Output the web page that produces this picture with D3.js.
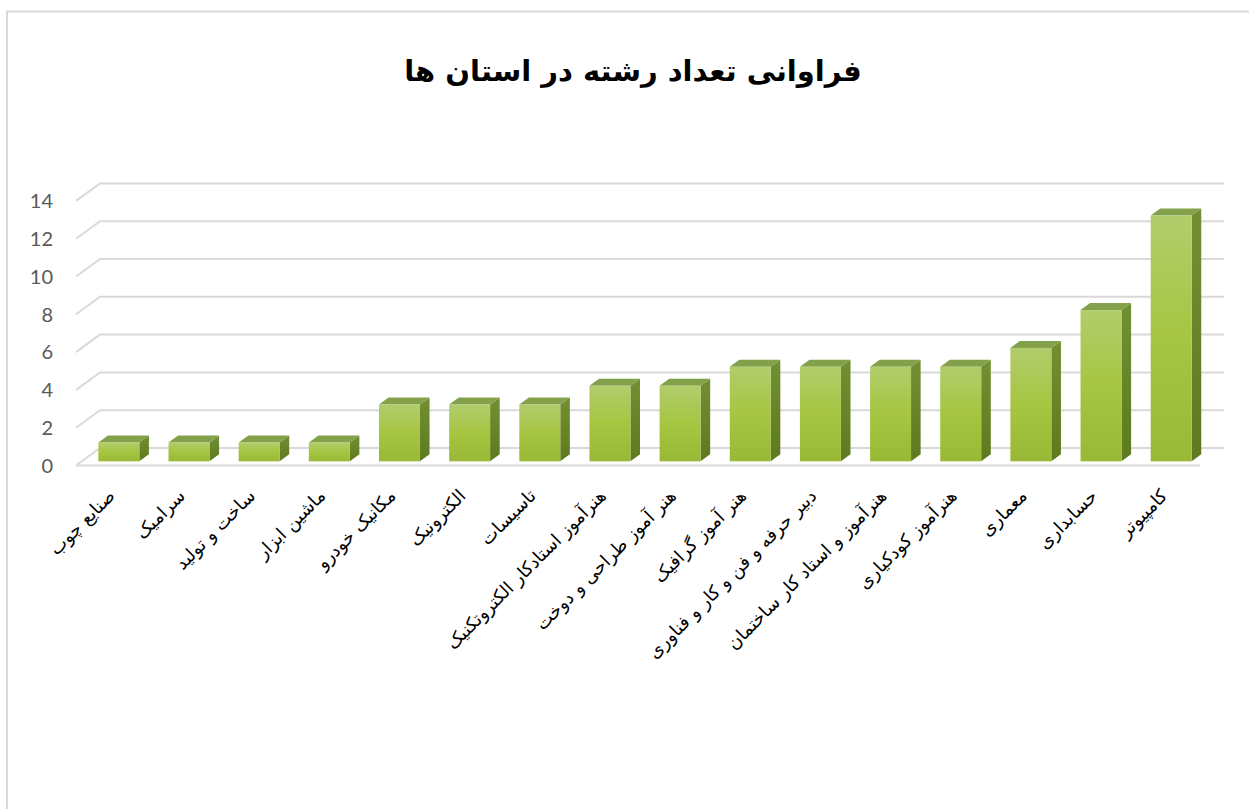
<!DOCTYPE html>
<html>
<head>
<meta charset="utf-8">
<script src="https://cdn.jsdelivr.net/npm/d3@7/dist/d3.min.js"></script>
<style>
  html, body { margin: 0; padding: 0; background: #ffffff; }
  svg { display: block; }
</style>
</head>
<body>
<svg id="chart" width="1249" height="809"></svg>
<script>
// ---- data ----
const chartTitle = "فراوانی تعداد رشته در استان ها";
const categories = [
  "صنایع چوب",
  "سرامیک",
  "ساخت و تولید",
  "ماشین ابزار",
  "مکانیک خودرو",
  "الکترونیک",
  "تاسیسات",
  "هنرآموز استادکار الکتروتکنیک",
  "هنر آموز طراحی و دوخت",
  "هنر آموز گرافیک",
  "دبیر حرفه و فن و کار و فناوری",
  "هنرآموز و استاد کار ساختمان",
  "هنرآموز کودکیاری",
  "معماری",
  "حسابداری",
  "کامپیوتر"
];
const values = [1, 1, 1, 1, 3, 3, 3, 4, 4, 5, 5, 5, 5, 6, 8, 13];
const yTicks = [0, 2, 4, 6, 8, 10, 12, 14];

// ---- layout ----
const svg = d3.select("#chart");
const W = 1249, H = 809;

// chart frame
svg.append("path")
  .attr("d", `M7,${H + 5} L7,11.5 L${W + 5},11.5`)
  .attr("fill", "none")
  .attr("stroke", "#d9d9d9")
  .attr("stroke-width", 2);

// 3D projection: front plane scales + depth vector
const depthX = 24, depthY = -17.5;
const x = d3.scaleBand()
  .domain(categories)
  .range([78, 1200.5])
  .paddingInner(0.416)
  .paddingOuter(0.208);
const y = d3.scaleLinear().domain([0, 14]).range([465.5, 200.9]);
const floorLeft = 76, floorRight = 1200;

// gridlines on back wall + left-side diagonals
const grid = svg.append("g");
yTicks.forEach(v => {
  const yf = y(v);
  grid.append("path")
    .attr("d", `M${floorLeft},${yf} L${floorLeft + depthX},${yf + depthY} L${floorRight + depthX},${yf + depthY}`)
    .attr("fill", "none")
    .attr("stroke", "#d9d9d9")
    .attr("stroke-width", 2);
});
// floor front edge
grid.append("line")
  .attr("x1", floorLeft).attr("x2", floorRight)
  .attr("y1", y(0)).attr("y2", y(0))
  .attr("stroke", "#d9d9d9").attr("stroke-width", 2);

// y axis labels
svg.append("g").selectAll("text")
  .data(yTicks)
  .join("text")
  .attr("x", 53)
  .attr("y", d => y(d))
  .attr("dy", "0.36em")
  .attr("text-anchor", "end")
  .attr("font-family", "Lato, 'Open Sans', sans-serif")
  .attr("font-size", 20)
  .attr("fill", "#595959")
  .text(d => d);

// gradients
const defs = svg.append("defs");
const gFront = defs.append("linearGradient").attr("id", "gFront")
  .attr("x1", 0).attr("y1", 0).attr("x2", 0).attr("y2", 1);
gFront.append("stop").attr("offset", "0%").attr("stop-color", "#b1cd6c");
gFront.append("stop").attr("offset", "50%").attr("stop-color", "#a6c541");
gFront.append("stop").attr("offset", "100%").attr("stop-color", "#99b936");
const gSide = defs.append("linearGradient").attr("id", "gSide")
  .attr("x1", 0).attr("y1", 0).attr("x2", 0).attr("y2", 1);
gSide.append("stop").attr("offset", "0%").attr("stop-color", "#728f32");
gSide.append("stop").attr("offset", "100%").attr("stop-color", "#5d7a1f");

// bars
const d0 = 0.24, d1 = 0.64;
const bars = svg.append("g");
categories.forEach((c, i) => {
  const v = values[i];
  const bx = x(c) + d0 * depthX;
  const bw = x.bandwidth();
  const yTop = y(v) + d0 * depthY;
  const yBot = y(0) + d0 * depthY;
  const ox = (d1 - d0) * depthX, oy = (d1 - d0) * depthY;
  // side face
  bars.append("path")
    .attr("d", `M${bx + bw},${yTop} L${bx + bw + ox},${yTop + oy} L${bx + bw + ox},${yBot + oy} L${bx + bw},${yBot} Z`)
    .attr("fill", "url(#gSide)");
  // top face
  bars.append("path")
    .attr("d", `M${bx},${yTop} L${bx + ox},${yTop + oy} L${bx + bw + ox},${yTop + oy} L${bx + bw},${yTop} Z`)
    .attr("fill", "#83a04a");
  // front face
  bars.append("rect")
    .attr("x", bx).attr("y", yTop)
    .attr("width", bw).attr("height", yBot - yTop)
    .attr("fill", "url(#gFront)");
});

// category labels
svg.append("g").selectAll("text")
  .data(categories)
  .join("text")
  .attr("transform", d => `translate(${x(d) + x.bandwidth() / 2 + 3},${497}) rotate(-45)`)
  .attr("text-anchor", "end")
  .attr("font-family", "'DejaVu Sans', 'Noto Sans', sans-serif")
  .attr("font-size", 18)
  .attr("fill", "#000000")
  .text(d => d);

// title
svg.append("text")
  .attr("x", 633)
  .attr("y", 81)
  .attr("text-anchor", "middle")
  .attr("font-family", "'DejaVu Sans', sans-serif")
  .attr("font-weight", "bold")
  .attr("font-size", 29)
  .attr("fill", "#000000")
  .text(chartTitle);
</script>
</body>
</html>
